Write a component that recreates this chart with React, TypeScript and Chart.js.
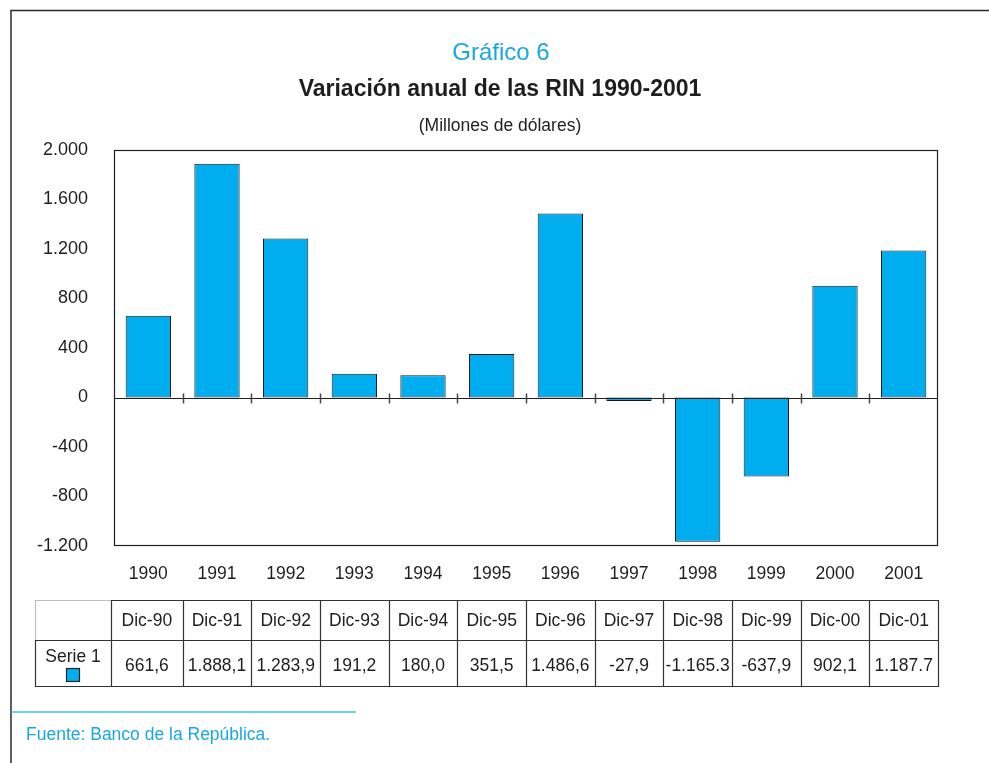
import React, { useEffect, useRef } from "react";
import { Chart, registerables } from "chart.js";

Chart.register(...registerables);

const categories = ["1990", "1991", "1992", "1993", "1994", "1995", "1996", "1997", "1998", "1999", "2000", "2001"];
const seriesValues = [661.6, 1888.1, 1283.9, 191.2, 180.0, 351.5, 1486.6, -27.9, -1165.3, -637.9, 902.1, 1187.7];
const tableHeaders = ["Dic-90", "Dic-91", "Dic-92", "Dic-93", "Dic-94", "Dic-95", "Dic-96", "Dic-97", "Dic-98", "Dic-99", "Dic-00", "Dic-01"];
const tableValues = ["661,6", "1.888,1", "1.283,9", "191,2", "180,0", "351,5", "1.486,6", "-27,9", "-1.165.3", "-637,9", "902,1", "1.187.7"];
const seriesName = "Serie 1";
const yMin = -1200;
const yMax = 2000;
const yStep = 400;

const FONT = "'Liberation Sans', Arial, Helvetica, sans-serif";
const CYAN = "#00adef";
const TEXT_CYAN = "#1aa7e0";
const INK = "#1e1e1e";

function fmt(v: number): string {
  const neg = v < 0;
  const s = Math.abs(Math.round(v)).toString().replace(/\B(?=(\d{3})+(?!\d))/g, ".");
  return (neg ? "-" : "") + s;
}

const decorPlugin = {
  id: "decor",
  beforeDraw(chart: any) {
    const ctx = chart.ctx;
    ctx.save();
    ctx.fillStyle = "#ffffff";
    ctx.fillRect(0, 0, chart.width, chart.height);
    // outer frame
    ctx.strokeStyle = "#2a2a2a";
    ctx.lineWidth = 1.5;
    ctx.beginPath();
    ctx.moveTo(11, chart.height);
    ctx.lineTo(11, 10.5);
    ctx.lineTo(chart.width, 10.5);
    ctx.stroke();
    // titles
    ctx.textAlign = "center";
    ctx.textBaseline = "middle";
    ctx.fillStyle = TEXT_CYAN;
    ctx.font = `24px ${FONT}`;
    ctx.fillText("Gráfico 6", 501, 53);
    ctx.fillStyle = INK;
    ctx.font = `bold 23px ${FONT}`;
    ctx.fillText("Variación anual de las RIN 1990-2001", 500, 90);
    ctx.font = `17.5px ${FONT}`;
    ctx.fillText("(Millones de dólares)", 500, 126);
    ctx.restore();
  },
  afterDatasetsDraw(chart: any) {
    const ctx = chart.ctx;
    const area = chart.chartArea;
    const x = chart.scales.x;
    const y = chart.scales.y;
    ctx.save();
    // plot border
    ctx.strokeStyle = INK;
    ctx.lineWidth = 1.2;
    ctx.strokeRect(area.left + 0.5, area.top + 0.5, area.right - area.left - 1, area.bottom - area.top - 1);
    // zero line
    const y0 = Math.round(y.getPixelForValue(0)) + 0.5;
    ctx.beginPath();
    ctx.moveTo(area.left, y0);
    ctx.lineTo(area.right, y0);
    ctx.stroke();
    // category boundary ticks on zero line
    const n = categories.length;
    const bounds: number[] = [area.left];
    for (let i = 1; i < n; i++) {
      bounds.push((x.getPixelForValue(i - 1) + x.getPixelForValue(i)) / 2);
    }
    bounds.push(area.right);
    ctx.strokeStyle = "#444";
    ctx.lineWidth = 1.5;
    for (let i = 1; i < n; i++) {
      const bx = Math.round(bounds[i]) + 0.5;
      ctx.beginPath();
      ctx.moveTo(bx, y0 - 5);
      ctx.lineTo(bx, y0 + 5);
      ctx.stroke();
    }

    // data table
    const tTop = 600;
    const tMid = 640;
    const tBot = 686;
    const tLeft = 35;
    const colLeft = bounds[0] - 3;
    ctx.lineWidth = 1.2;
    ctx.strokeStyle = "#bdbdbd";
    ctx.beginPath();
    ctx.moveTo(tLeft + 0.5, tMid);
    ctx.lineTo(tLeft + 0.5, tTop + 0.5);
    ctx.lineTo(colLeft, tTop + 0.5);
    ctx.stroke();
    ctx.strokeStyle = "#333";
    ctx.beginPath();
    ctx.moveTo(colLeft, tTop + 0.5);
    ctx.lineTo(bounds[n] + 1, tTop + 0.5);
    ctx.moveTo(tLeft, tMid + 0.5);
    ctx.lineTo(bounds[n] + 1, tMid + 0.5);
    ctx.moveTo(tLeft, tBot + 0.5);
    ctx.lineTo(bounds[n] + 1, tBot + 0.5);
    ctx.moveTo(tLeft + 0.5, tMid);
    ctx.lineTo(tLeft + 0.5, tBot + 0.5);
    for (let i = 0; i <= n; i++) {
      const bx = Math.round(i === 0 ? colLeft : bounds[i]) + 0.5;
      ctx.moveTo(bx, tTop);
      ctx.lineTo(bx, tBot + 0.5);
    }
    ctx.stroke();

    ctx.fillStyle = INK;
    ctx.textAlign = "center";
    ctx.textBaseline = "middle";
    ctx.font = `17.5px ${FONT}`;
    for (let i = 0; i < n; i++) {
      const l = i === 0 ? colLeft : bounds[i];
      const cx = (l + bounds[i + 1]) / 2;
      ctx.fillText(tableHeaders[i], cx, (tTop + tMid) / 2 + 1);
      ctx.fillText(tableValues[i], cx, (tMid + tBot) / 2 + 3);
    }
    const c0 = (tLeft + colLeft) / 2;
    ctx.fillText(seriesName, c0, 657);
    ctx.fillStyle = CYAN;
    ctx.fillRect(c0 - 7, 668, 14, 14);
    ctx.strokeStyle = "#222";
    ctx.lineWidth = 1.2;
    ctx.strokeRect(c0 - 7 + 0.5, 668 + 0.5, 13, 13);

    // source
    ctx.strokeStyle = "#49bfee";
    ctx.lineWidth = 1.5;
    ctx.beginPath();
    ctx.moveTo(11, 712);
    ctx.lineTo(356, 712);
    ctx.stroke();
    ctx.fillStyle = TEXT_CYAN;
    ctx.textAlign = "left";
    ctx.font = `17.5px ${FONT}`;
    ctx.fillText("Fuente: Banco de la República.", 26, 735);
    ctx.restore();
  },
};

export default function App() {
  const ref = useRef<HTMLCanvasElement>(null);
  useEffect(() => {
    if (!ref.current) return;
    const chart = new Chart(ref.current, {
      type: "bar",
      data: {
        labels: categories,
        datasets: [
          {
            label: seriesName,
            data: seriesValues,
            backgroundColor: CYAN,
            borderColor: "#1a1a1a",
            borderWidth: 1,
            borderSkipped: false,
            barPercentage: 0.66,
            categoryPercentage: 1,
          },
        ],
      },
      options: {
        animation: false,
        responsive: false,
        layout: { padding: { top: 150, right: 51, left: 0, bottom: 0 } },
        plugins: { legend: { display: false }, title: { display: false }, tooltip: { enabled: false } },
        scales: {
          x: {
            grid: { display: false },
            border: { display: false },
            ticks: { color: INK, font: { family: FONT, size: 17.5 }, padding: 10, maxRotation: 0 },
            afterFit: (s: any) => {
              s.height = 217;
            },
          },
          y: {
            min: yMin,
            max: yMax,
            grid: { display: false, drawTicks: false },
            border: { display: false },
            ticks: {
              stepSize: yStep,
              color: INK,
              font: { family: FONT, size: 18 },
              padding: 26,
              callback: (v: any) => fmt(Number(v)),
            },
            afterFit: (s: any) => {
              s.width = 114;
            },
          },
        },
      },
      plugins: [decorPlugin],
    });
    return () => chart.destroy();
  }, []);
  return (
    <div style={{ position: "absolute", left: 0, top: 0, width: 989, height: 763 }}>
      <canvas ref={ref} width={989} height={763} style={{ width: 989, height: 763, display: "block" }} />
    </div>
  );
}
